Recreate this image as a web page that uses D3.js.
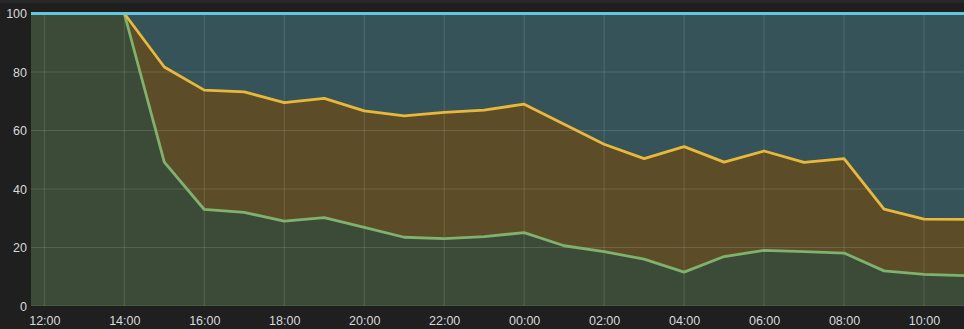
<!DOCTYPE html>
<html>
<head>
<meta charset="utf-8">
<script src="https://cdn.jsdelivr.net/npm/d3@7.9.0/dist/d3.min.js"></script>
<style>
  html, body { margin: 0; padding: 0; background: #1f1f20; }
  svg { display: block; }
  .tick text { fill: #d8d9da; font-family: "Liberation Sans", Arial, sans-serif; font-size: 12.5px; }
</style>
</head>
<body>
<svg id="chart" width="964" height="329"></svg>
<script>
// hourly samples, 11:00 -> 11:00 next day
const hours = ["11:00","12:00","13:00","14:00","15:00","16:00","17:00","18:00","19:00","20:00","21:00","22:00","23:00",
               "00:00","01:00","02:00","03:00","04:00","05:00","06:00","07:00","08:00","09:00","10:00","11:00"];
const cyanValues   = hours.map(() => 100);
const yellowValues = [100,100,100,100,81.7,73.8,73.2,69.5,71.0,66.7,65.0,66.2,67.0,
                      69.0,62.1,55.3,50.4,54.5,49.2,53.0,49.1,50.4,33.1,29.7,29.6];
const greenValues  = [100,100,100,100,49.2,33.0,32.0,29.0,30.2,26.9,23.5,23.0,23.7,
                      25.1,20.6,18.6,16.0,11.6,16.9,19.0,18.6,18.1,12.0,10.8,10.4];
const yTicks = [0, 20, 40, 60, 80, 100];

// turn hour labels into dates (day rolls over at 00:00)
const times = hours.map((h, i) => {
  const [hh, mm] = h.split(':').map(Number);
  const day = i >= 13 ? 2 : 1;
  return new Date(2024, 0, day, hh, mm);
});

const svg = d3.select('#chart');
const plotLeft = 31, plotRight = 964, plotTop = 13.5, plotBottom = 306;

// faint top strip
svg.append('rect').attr('x', 0).attr('y', 0).attr('width', 964).attr('height', 3).attr('fill', '#272727');

const x = d3.scaleTime()
  .domain([new Date(2024, 0, 1, 11, 40), new Date(2024, 0, 2, 11, 0)])
  .range([plotLeft, plotRight]);
const y = d3.scaleLinear().domain([0, 100]).range([plotBottom, plotTop]);

svg.append('clipPath').attr('id', 'clip')
  .append('rect').attr('x', plotLeft).attr('y', 0).attr('width', plotRight - plotLeft).attr('height', plotBottom);

const plot = svg.append('g').attr('clip-path', 'url(#clip)');

const series = [
  { values: cyanValues,   fill: '#36535a', stroke: '#62c6dc' },
  { values: yellowValues, fill: '#5c4c28', stroke: '#eab839' },
  { values: greenValues,  fill: '#3c4b37', stroke: '#7eb26d' }
];

const area = d3.area().x((d, i) => x(times[i])).y0(y(0)).y1(d => y(d));
const line = d3.line().x((d, i) => x(times[i])).y(d => y(d));

series.forEach(s => {
  plot.append('path').attr('d', area(s.values)).attr('fill', s.fill);
});

// grid
const gridTimes = d3.range(0, 12).map(k => new Date(2024, 0, 1, 12 + k * 2, 0));
plot.selectAll('line.vgrid').data(gridTimes).join('line')
  .attr('x1', d => x(d)).attr('x2', d => x(d)).attr('y1', plotTop).attr('y2', plotBottom)
  .attr('stroke', 'rgba(255,255,255,0.13)').attr('stroke-width', 1);
plot.selectAll('line.hgrid').data(yTicks).join('line')
  .attr('x1', plotLeft).attr('x2', plotRight).attr('y1', d => y(d)).attr('y2', d => y(d))
  .attr('stroke', 'rgba(255,255,255,0.13)').attr('stroke-width', 1);

// lines: green, yellow, then cyan on top
series.slice().reverse().forEach(s => {
  plot.append('path').attr('d', line(s.values))
    .attr('fill', 'none').attr('stroke', s.stroke).attr('stroke-width', 2.8)
    .attr('stroke-linejoin', 'round');
});

// axes
const xAxis = d3.axisBottom(x).tickValues(gridTimes).tickFormat(d3.timeFormat('%H:%M')).tickSize(0).tickPadding(10);
const gx = svg.append('g').attr('transform', `translate(0,${plotBottom})`).call(xAxis);
gx.select('.domain').remove();

const yAxis = d3.axisLeft(y).tickValues(yTicks).tickSize(0).tickPadding(4);
const gy = svg.append('g').attr('transform', `translate(${plotLeft},0)`).call(yAxis);
gy.select('.domain').remove();
</script>
</body>
</html>
